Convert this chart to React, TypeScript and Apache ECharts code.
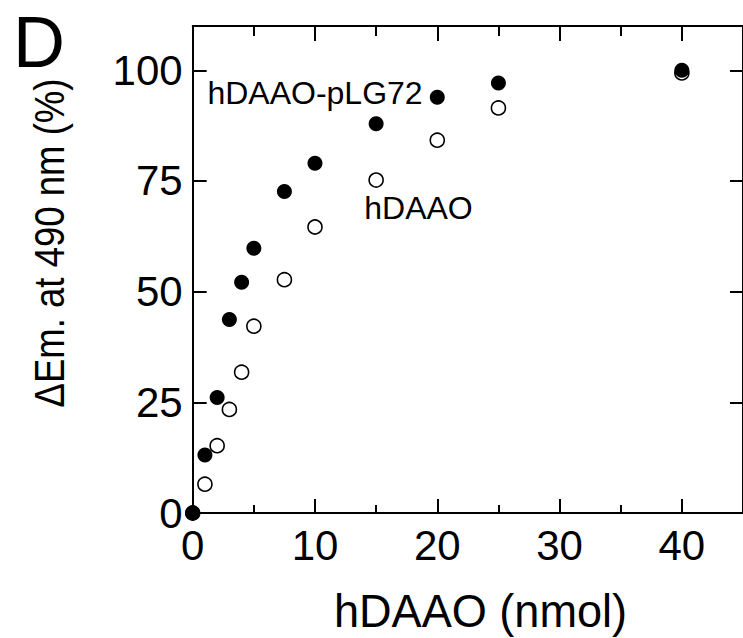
import React, { useEffect, useRef } from "react";
import * as echarts from "echarts";

const doses = [0, 1, 2, 3, 4, 5, 7.5, 10, 15, 20, 25, 40];
const pLG72Values = [0, 13.1, 26.1, 43.7, 52.1, 59.8, 72.6, 79.0, 87.9, 93.9, 97.1, 100.0];
const hDAAOValues = [0, 6.5, 15.2, 23.4, 31.8, 42.2, 52.7, 64.6, 75.2, 84.2, 91.5, 99.4];

const FONT = "'Liberation Sans', Arial, Helvetica, sans-serif";

export default function App() {
  const ref = useRef<HTMLDivElement>(null);
  useEffect(() => {
    if (!ref.current) return;
    const chart = echarts.init(ref.current, undefined, { renderer: "svg" });
    const line = { color: "#000", width: 2 };
    const option: any = {
      animation: false,
      backgroundColor: "#fff",
      grid: { left: 192.7, top: 26, right: -2.3, bottom: 125, containLabel: false },
      xAxis: [
        {
          type: "value", position: "bottom", min: 0, max: 45, interval: 10,
          axisLine: { show: true, onZero: false, lineStyle: line },
          axisTick: { show: true, inside: true, length: 14, lineStyle: line },
          minorTick: { show: true, splitNumber: 2, length: 8, lineStyle: line },
          axisLabel: { fontSize: 42, color: "#000", fontFamily: FONT, margin: 11, showMaxLabel: false },
          splitLine: { show: false }, minorSplitLine: { show: false },
        },
        {
          type: "value", position: "top", min: 0, max: 45, interval: 10,
          axisLine: { show: true, onZero: false, lineStyle: line },
          axisTick: { show: true, inside: true, length: 15, lineStyle: line },
          minorTick: { show: true, splitNumber: 2, length: 10, lineStyle: line },
          axisLabel: { show: false },
          splitLine: { show: false }, minorSplitLine: { show: false },
        },
      ],
      yAxis: [
        {
          type: "value", position: "left", min: 0, max: 110, interval: 25,
          axisLine: { show: true, onZero: false, lineStyle: line },
          axisTick: { show: true, inside: true, length: 14, lineStyle: line },
          axisLabel: { fontSize: 42, color: "#000", fontFamily: FONT, margin: 10, showMaxLabel: false },
          splitLine: { show: false },
        },
        {
          type: "value", position: "right", min: 0, max: 110, interval: 25,
          axisLine: { show: true, onZero: false, lineStyle: line },
          axisTick: { show: true, inside: true, length: 13, lineStyle: line },
          axisLabel: { show: false },
          splitLine: { show: false },
        },
      ],
      series: [
        {
          name: "hDAAO", type: "scatter", xAxisIndex: 0, yAxisIndex: 0,
          symbol: "circle", symbolSize: 14,
          itemStyle: { color: "#fff", borderColor: "#000", borderWidth: 1.6, opacity: 1 },
          data: doses.map((d, i) => [d, hDAAOValues[i]]),
        },
        {
          name: "hDAAO-pLG72", type: "scatter", xAxisIndex: 0, yAxisIndex: 0,
          symbol: "circle", symbolSize: 15,
          itemStyle: { color: "#000", borderColor: "#000", borderWidth: 0, opacity: 1 },
          data: doses.map((d, i) => [d, pLG72Values[i]]),
        },
      ],
      graphic: [
        {
          type: "text", x: 39, y: 42,
          style: { text: "D", fontSize: 72, lineHeight: 58, fontFamily: FONT, fill: "#000", align: "center", verticalAlign: "middle" },
        },
        {
          type: "text", x: 315, y: 93,
          style: { text: "hDAAO-pLG72", fontSize: 32, fontFamily: FONT, fill: "#000", align: "center", verticalAlign: "middle" },
        },
        {
          type: "text", x: 418.5, y: 208,
          style: { text: "hDAAO", fontSize: 32, fontFamily: FONT, fill: "#000", align: "center", verticalAlign: "middle" },
        },
        {
          type: "text", x: 480.5, y: 611, scaleX: 0.96,
          style: { text: "hDAAO (nmol)", fontSize: 47, lineHeight: 46, fontFamily: FONT, fill: "#000", align: "center", verticalAlign: "middle" },
        },
        {
          type: "text", x: 49, y: 243, rotation: Math.PI / 2, scaleX: 0.85,
          style: { text: "ΔEm. at 490 nm (%)", fontSize: 43, fontFamily: FONT, fill: "#000", align: "center", verticalAlign: "middle" },
        },
      ],
    };
    chart.setOption(option);
    return () => chart.dispose();
  }, []);
  return (
    <div
      ref={ref}
      style={{ position: "fixed", left: 0, top: 0, width: 743, height: 638, background: "#fff" }}
    />
  );
}
